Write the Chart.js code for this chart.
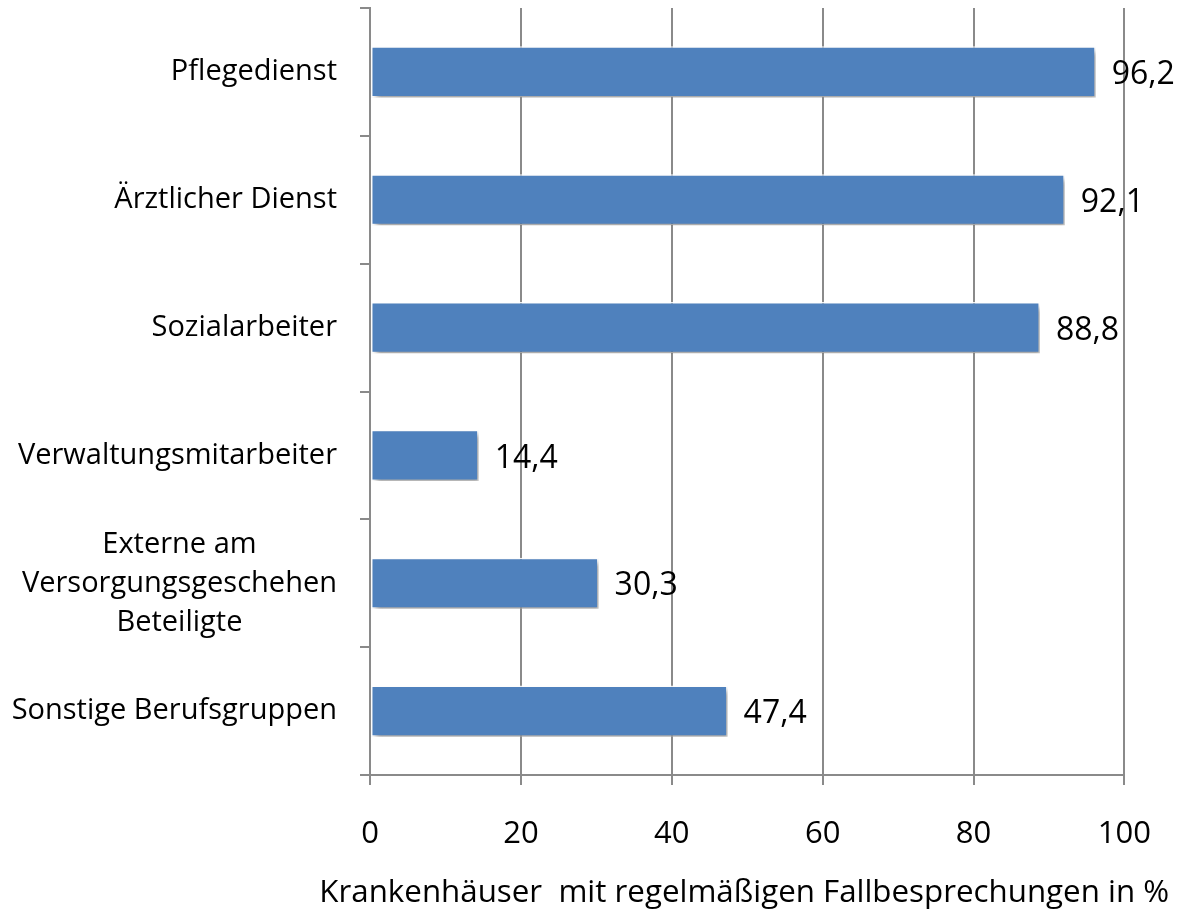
<!DOCTYPE html>
<html>
<head>
<meta charset="utf-8">
<script src="https://cdn.jsdelivr.net/npm/chart.js@4.4.0/dist/chart.umd.min.js"></script>
<style>
  body { margin: 0; background: #fff; }
  canvas { display: block; }
</style>
</head>
<body>
<canvas id="myChart" width="1182" height="913"></canvas>
<script>
// categories and values (percent), top to bottom
var labels = [
  "Pflegedienst",
  "Ärztlicher Dienst",
  "Sozialarbeiter",
  "Verwaltungsmitarbeiter",
  ["Externe am", "Versorgungsgeschehen", "Beteiligte"],
  "Sonstige Berufsgruppen"
];
var amounts = [96.2, 92.1, 88.8, 14.4, 30.3, 47.4];
var xTicks = [0, 20, 40, 60, 80, 100];
var xTitle = "Krankenhäuser  mit regelmäßigen Fallbesprechungen in %";

var fontName = "'Open Sans', Lato, sans-serif";
var gridGray = "#8a8a8a";
var barBlue = "#4f81bd";

let chart = document.getElementById("myChart").getContext("2d");

// shadow under bars
var barShadow = {
  id: "barShadow",
  beforeDatasetDraw: function (c) {
    c.ctx.save();
    c.ctx.shadowColor = "rgba(0,0,0,0.38)";
    c.ctx.shadowBlur = 5;
    c.ctx.shadowOffsetX = 3;
    c.ctx.shadowOffsetY = 4;
  },
  afterDatasetDraw: function (c) {
    c.ctx.restore();
  }
};

// value labels at the end of each bar, comma decimal
var valueLabels = {
  id: "valueLabels",
  afterDatasetsDraw: function (c) {
    var ctx = c.ctx;
    var meta = c.getDatasetMeta(0);
    ctx.save();
    ctx.font = "32px " + fontName;
    ctx.fillStyle = "#000";
    ctx.textAlign = "left";
    ctx.textBaseline = "middle";
    meta.data.forEach(function (bar, i) {
      var txt = amounts[i].toFixed(1).replace(".", ",");
      ctx.fillText(txt, bar.x + 16, bar.y + 3);
    });
    ctx.restore();
  }
};

// category labels: right aligned block, lines centred inside it
// x title drawn here too, chart.js squeezes it to the axis width
var catLabels = {
  id: "catLabels",
  afterDraw: function (c) {
    var ctx = c.ctx;
    var yScale = c.scales.y;
    ctx.save();
    ctx.font = "29px " + fontName;
    ctx.fillStyle = "#000";
    ctx.textAlign = "center";
    ctx.textBaseline = "middle";
    var right = yScale.right - 33;
    var lineH = 39;
    labels.forEach(function (lab, i) {
      var lines = Array.isArray(lab) ? lab : [lab];
      var w = 0;
      lines.forEach(function (l) { w = Math.max(w, ctx.measureText(l).width); });
      var cx = right - w / 2;
      var cy = yScale.getPixelForValue(i);
      var start = cy - (lines.length - 1) * lineH / 2;
      lines.forEach(function (l, k) {
        ctx.fillText(l, cx, start + k * lineH);
      });
    });

    var area = c.chartArea;
    ctx.font = "31.3px " + fontName;
    ctx.fillText(xTitle, (area.left + area.right) / 2 - 3, c.height - 20);
    ctx.restore();
  }
};

new Chart(chart, {
  type: "bar",
  data: {
    labels: labels,
    datasets: [
      {
        label: "Fallbesprechungen",
        data: amounts,
        backgroundColor: barBlue,
        borderColor: "rgba(255,255,255,0.9)",
        borderWidth: 1.5,
        borderSkipped: false,
        barPercentage: 0.4,
        categoryPercentage: 1
      }
    ]
  },
  options: {
    indexAxis: "y",
    responsive: false,
    animation: false,
    layout: { padding: { top: 8, right: 56, bottom: 0, left: 0 } },
    plugins: {
      legend: { display: false },
      tooltip: { enabled: false }
    },
    scales: {
      x: {
        min: 0,
        max: 100,
        afterBuildTicks: function (scale) {
          scale.ticks = xTicks.map(function (v) { return { value: v }; });
        },
        afterFit: function (scale) { scale.height = 138; },
        grid: {
          color: gridGray,
          lineWidth: 2,
          tickLength: 10,
          drawTicks: true
        },
        border: { color: gridGray, width: 2 },
        ticks: {
          color: "#000",
          padding: 31,
          maxRotation: 0,
          font: { family: fontName, size: 31 }
        },
        title: { display: false }
      },
      y: {
        afterFit: function (scale) { scale.width = 370; },
        grid: {
          offset: true,
          drawOnChartArea: false,
          color: gridGray,
          lineWidth: 2,
          tickLength: 10
        },
        border: { color: gridGray, width: 2 },
        ticks: { display: false }
      }
    }
  },
  plugins: [barShadow, valueLabels, catLabels]
});
</script>
</body>
</html>
